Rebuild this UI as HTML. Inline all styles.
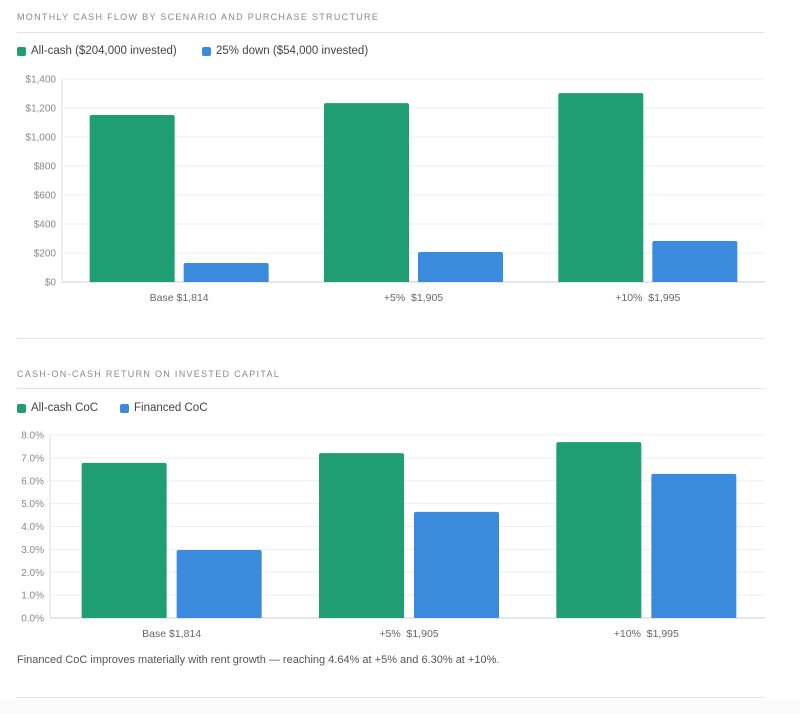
<!DOCTYPE html>
<html><head><meta charset="utf-8"><style>
body{margin:0;width:800px;height:714px;background:#fff;font-family:"Liberation Sans",sans-serif;position:relative;overflow:hidden}
.abs{position:absolute}
.title{left:17px;font-size:9px;letter-spacing:1.3px;color:#888}
.hr{left:17px;width:748px;height:1px;background:#e3e3e0}
.leg{font-size:11.5px;color:#444;display:flex;align-items:center}
.sw{width:9px;height:9px;border-radius:2px;display:inline-block;margin-right:5px}
</style></head><body>
<div class="abs title" style="top:12px">MONTHLY CASH FLOW BY SCENARIO AND PURCHASE STRUCTURE</div>
<div class="abs hr" style="top:32px"></div>
<div class="abs leg" style="left:17px;top:45px"><span class="sw" style="background:#1f9e74"></span>All-cash ($204,000 invested)</div>
<div class="abs leg" style="left:202px;top:45px"><span class="sw" style="background:#3a8ade"></span>25% down ($54,000 invested)</div>
<svg class="abs" style="left:0;top:0" width="800" height="330" id="c1"></svg>
<div class="abs hr" style="top:338px"></div>
<div class="abs title" style="top:369px">CASH-ON-CASH RETURN ON INVESTED CAPITAL</div>
<div class="abs hr" style="top:388px"></div>
<div class="abs leg" style="left:17px;top:402px"><span class="sw" style="background:#1f9e74"></span>All-cash CoC</div>
<div class="abs leg" style="left:120px;top:402px"><span class="sw" style="background:#3a8ade"></span>Financed CoC</div>
<svg class="abs" style="left:0;top:0" width="800" height="650" id="c2"></svg>
<div class="abs" style="left:17px;top:654px;font-size:11px;color:#555">Financed CoC improves materially with rent growth — reaching 4.64% at +5% and 6.30% at +10%.</div>
<div class="abs hr" style="top:697px"></div>
<div class="abs" style="left:0;top:700px;width:800px;height:14px;background:#fafafa"></div>
<script>
const categories=["Base $1,814","+5%\u00a0\u00a0$1,905","+10%\u00a0\u00a0$1,995"];
const cashAllCash=[1152,1234,1303];
const cashFinanced=[131,207,283];
const cashTicks=[0,200,400,600,800,1000,1200,1400];
const cocAllCash=[6.78,7.21,7.69];
const cocFinanced=[2.97,4.64,6.30];
const cocTicks=[0,1,2,3,4,5,6,7,8];
const NS="http://www.w3.org/2000/svg";
function mk(svg,tag,a){const e=document.createElementNS(NS,tag);for(const k in a)e.setAttribute(k,a[k]);svg.appendChild(e);return e;}
function draw(id,cfg){
 const svg=document.getElementById(id);
 const y=v=>cfg.y0-(v/cfg.max)*(cfg.y0-cfg.y1);
 const bw=(cfg.x1-cfg.bx0)/categories.length;
 cfg.ticks.forEach(t=>{
  const g=mk(svg,'line',{x1:cfg.x0,x2:cfg.x1,y1:y(t),y2:y(t),stroke:t===0?'#ccc':'#eee','stroke-width':1});
  
  
  const tx=mk(svg,'text',{x:cfg.x0-6,y:y(t)+3.5,'text-anchor':'end','font-size':10,fill:'#888'});
  tx.textContent=cfg.fmt(t);
  
  
 });
 const ax=mk(svg,'line',{x1:cfg.x0,x2:cfg.x0,y1:cfg.y1,y2:cfg.y0,stroke:'#ddd'});
 
 
 categories.forEach((c,i)=>{
  const cx=cfg.bx0+bw*(i+0.5);
  [[cfg.a,'#1f9e74',cx-cfg.gap/2-cfg.w],[cfg.b,'#3a8ade',cx+cfg.gap/2]].forEach(([arr,col,x],j)=>{
   const r=mk(svg,'path',{fill:col});
   const top=y(arr[i]),rr=2;
   r.setAttribute('d',`M${x},${cfg.y0}V${top+rr}Q${x},${top} ${x+rr},${top}H${x+cfg.w-rr}Q${x+cfg.w},${top} ${x+cfg.w},${top+rr}V${cfg.y0}Z`);
   
   
  });
  const t=mk(svg,'text',{x:cx,y:cfg.y0+19,'text-anchor':'middle','font-size':10.5,fill:'#666'});
  t.textContent=c;
  
  
 });
}
draw('c1',{x0:62,bx0:62,x1:765,y0:282,y1:79,max:1400,ticks:cashTicks,a:cashAllCash,b:cashFinanced,w:85,gap:9,fmt:v=>'$'+v.toLocaleString('en-US')});
draw('c2',{x0:50,bx0:53,x1:765,y0:618,y1:435,max:8,ticks:cocTicks,a:cocAllCash,b:cocFinanced,w:85,gap:10,fmt:v=>v.toFixed(1)+'%'});
</script>
</body></html>
